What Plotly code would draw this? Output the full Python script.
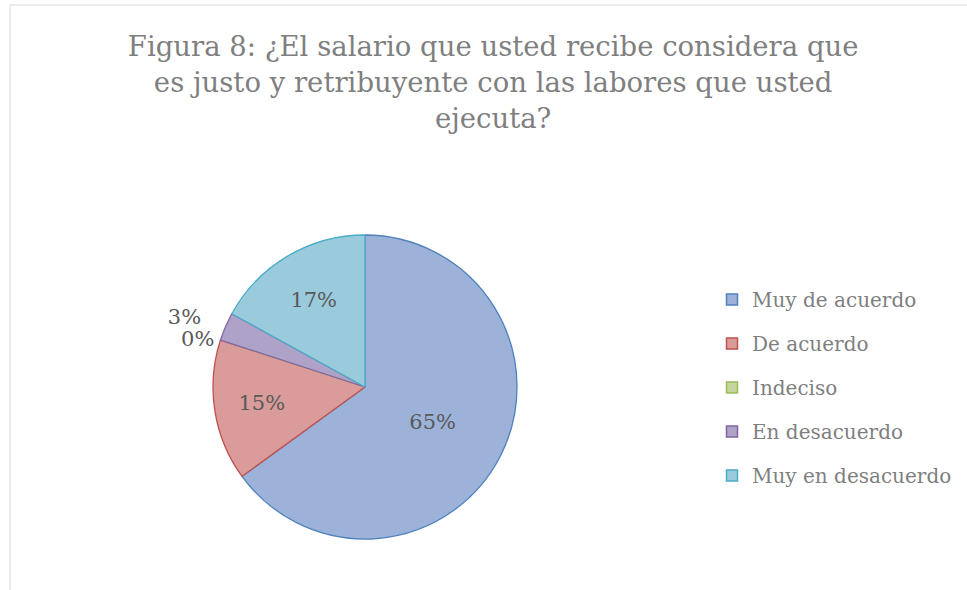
import plotly.graph_objects as go

categories = ["Muy de acuerdo", "De acuerdo", "Indeciso", "En desacuerdo", "Muy en desacuerdo"]
values = [65, 15, 0, 3, 17]
title_text = "Figura 8: ¿El salario que usted recibe considera que<br>es justo y retribuyente con las labores que usted<br>ejecuta?"

fill_colors = ["#9DB2D8", "#D99C9A", "#C3D69B", "#AFA2C8", "#99CBDD"]
line_colors = ["#4F81BD", "#C0504D", "#9BBB59", "#8064A2", "#4BACC6"]

FONT = "DejaVu Serif"
W, H = 967, 590
CX, CY, R = 365, 387, 152


def pie_domain(radius):
    return dict(x=[(CX - radius) / W, (CX + radius) / W],
                y=[1 - (CY + radius) / H, 1 - (CY - radius) / H])


# label layers: (text positions per slice, radius of the (invisible) layer)
label_layers = [
    (["inside", "inside", "outside", "none", "inside"], R),
    (["none", "none", "none", "outside", "none"], 172),
]

fig = go.Figure()
for li, (positions, radius) in enumerate(label_layers):
    visible_layer = li == 0
    fig.add_trace(go.Pie(
        labels=categories,
        values=values,
        sort=False,
        direction="clockwise",
        rotation=0,
        texttemplate=["%{percent:.0%}" if p != "none" else "" for p in positions],
        textposition=positions,
        insidetextorientation="horizontal",
        textfont=dict(family=FONT, size=21, color="#595959"),
        marker=dict(colors=fill_colors if visible_layer else ["rgba(0,0,0,0)"] * len(values),
                    line=dict(color=line_colors if visible_layer else "rgba(0,0,0,0)",
                              width=1.3 if visible_layer else 0)),
        showlegend=False,
        hoverinfo="label+percent" if visible_layer else "skip",
        domain=pie_domain(radius),
    ))

for name, fc, lc in zip(categories, fill_colors, line_colors):
    fig.add_trace(go.Scatter(
        x=[None], y=[None], mode="markers", name=name, legendgroup=name,
        marker=dict(symbol="square", size=11, color=fc, line=dict(color=lc, width=1.5)),
        showlegend=True, hoverinfo="skip",
    ))

fig.update_layout(
    width=W, height=H,
    margin=dict(l=0, r=0, t=0, b=0),
    paper_bgcolor="white", plot_bgcolor="white",
    xaxis=dict(visible=False), yaxis=dict(visible=False),
    title=dict(text=title_text, x=0.51, xanchor="center", y=1 - 56 / H, yanchor="top",
               font=dict(family=FONT, size=27.5, color="#7F7F7F")),
    legend=dict(x=(732 - 20) / W, xanchor="left", y=1 - 280 / H, yanchor="top",
                font=dict(family=FONT, size=20, color="#7F7F7F"),
                tracegroupgap=15, bgcolor="rgba(0,0,0,0)", itemclick=False),
    shapes=[dict(type="rect", xref="paper", yref="paper", x0=10 / W, x1=1.05, y0=-0.05, y1=1 - 5 / H,
                 line=dict(color="#D9D9D9", width=1), fillcolor="rgba(0,0,0,0)", layer="below")],
)

fig.write_html("out.html", config={"displayModeBar": False},
               post_script="document.body.style.margin='0';")
